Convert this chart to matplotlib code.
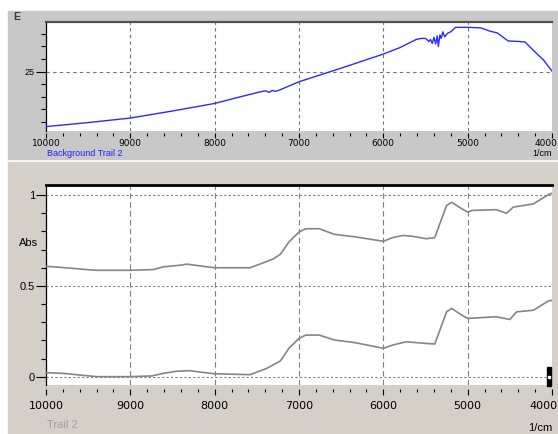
import matplotlib
matplotlib.use('Agg')
import matplotlib.pyplot as plt
from matplotlib.patches import Rectangle
from matplotlib.ticker import FixedLocator, MultipleLocator
from matplotlib.transforms import ScaledTranslation

# Background Trail 2 (top panel)
bg_wn = [10000, 9500, 9000, 8500, 8000, 7700, 7460, 7400, 7350, 7320,
         7280, 7240, 7000, 6500, 6000, 5800, 5610, 5550, 5500, 5460,
         5440, 5420, 5400, 5380, 5360, 5348, 5329, 5313, 5294, 5273,
         5241, 5202, 5143, 5004, 4846, 4727, 4650, 4520, 4400, 4320,
         4225, 4100, 4000]
bg_e = [14.1, 14.9, 15.8, 17.2, 18.7, 20.0, 21.0, 21.2, 20.9, 21.3,
        21.1, 21.3, 23.0, 25.7, 28.5, 29.8, 31.4, 31.6, 31.6, 31.0,
        31.4, 30.6, 31.8, 30.5, 32.1, 30.0, 32.3, 31.6, 32.9, 31.9,
        32.6, 32.9, 33.8, 33.8, 33.7, 33.0, 32.7, 31.1, 31.0, 30.9,
        29.3, 27.3, 25.1]

# Trail 2 (bottom panel), upper and lower traces
up_wn = [10000, 9795, 9517, 9400, 9000, 8725, 8610, 8410, 8330, 8090,
         8000, 7580, 7420, 7300, 7220, 7120, 7000, 6920, 6760, 6580, 6330,
         6000, 5890, 5770, 5650, 5490, 5390, 5330, 5250, 5190, 5070,
         5000, 4940, 4660, 4540, 4460, 4220, 4040, 4000]
up_abs = [0.608, 0.601, 0.590, 0.586, 0.586, 0.590, 0.605, 0.614, 0.620, 0.605,
          0.600, 0.600, 0.628, 0.650, 0.675, 0.742, 0.797, 0.815, 0.815, 0.784, 0.770,
          0.746, 0.766, 0.778, 0.773, 0.760, 0.766, 0.843, 0.943, 0.961, 0.925,
          0.907, 0.916, 0.920, 0.900, 0.934, 0.952, 1.004, 1.01]

lo_wn = [10000, 9795, 9400, 9000, 8745, 8610, 8450, 8290, 8170, 8000,
         7580, 7380, 7220, 7120, 7000, 6920, 6760, 6580, 6330, 6000,
         5890, 5730, 5490, 5390, 5330, 5250, 5190, 5070, 5000, 4660,
         4500, 4420, 4220, 4040, 4000]
lo_abs = [0.022, 0.018, 0.0, 0.0, 0.004, 0.018, 0.030, 0.033, 0.025, 0.016,
          0.011, 0.046, 0.087, 0.156, 0.211, 0.229, 0.229, 0.202, 0.187, 0.156,
          0.174, 0.192, 0.183, 0.180, 0.256, 0.357, 0.376, 0.339, 0.321, 0.330,
          0.315, 0.357, 0.366, 0.418, 0.42]

x_major = [10000, 9000, 8000, 7000, 6000, 5000, 4000]
x_labels = ['10000', '9000', '8000', '7000', '6000', '5000', '4000']
x_grid = [9000, 8000, 7000, 6000, 5000]
abs_ticks = [0, 0.5, 1]
abs_labels = ['0', '0.5', '1']

W, H = 558, 434


def fx(x):
    return x / W


def fy(y):
    return 1 - y / H


fig = plt.figure(figsize=(W / 100, H / 100), dpi=100, facecolor='white')

# panel backgrounds
fig.patches.append(Rectangle((fx(8), fy(159)), fx(550), 148 / H,
                             transform=fig.transFigure, color='#c8c8c8', zorder=-5))
fig.patches.append(Rectangle((fx(8), fy(434)), fx(550), 272 / H,
                             transform=fig.transFigure, color='#d4d0c8', zorder=-5))

small = ['Liberation Sans', 'DejaVu Sans']
narrow = ['DejaVu Sans Condensed', 'Liberation Sans Narrow', 'Liberation Sans']

# ---- top panel ----
ax1 = fig.add_axes([fx(46), fy(131), 506 / W, 109 / H])
ax1.set_zorder(2)
ax1.set_facecolor('white')
ax1.plot(bg_wn, bg_e, color='#2a2aff', lw=1.0, zorder=3)
ax1.set_xlim(10000, 4000)
ax1.set_ylim(13.23, 34.86)
for v in x_grid:
    ax1.axvline(v, color='#707070', lw=0.8, dashes=(3, 3), zorder=1)
ax1.axhline(25, color='#707070', lw=0.8, dashes=(3, 3), zorder=1)

ax1.xaxis.set_major_locator(FixedLocator(x_major))
ax1.set_xticklabels(x_labels)
ax1.xaxis.set_minor_locator(MultipleLocator(200))
ax1.yaxis.set_major_locator(FixedLocator([25]))
ax1.set_yticklabels(['25'])
ax1.yaxis.set_minor_locator(MultipleLocator(2.5))
ax1.tick_params(axis='x', which='major', length=3.6, width=0.8, pad=1, labelsize=6.5, direction='out')
ax1.tick_params(axis='x', which='minor', length=2.2, width=0.8, direction='out')
ax1.tick_params(axis='y', which='major', length=7.2, width=0.8, pad=0.8, labelsize=6.5, direction='out')
ax1.tick_params(axis='y', which='minor', length=3.6, width=0.8, direction='out')
for lab in ax1.get_xticklabels() + ax1.get_yticklabels():
    lab.set_family(small)
ax1.spines['bottom'].set_position(('outward', 1.5))
ax1.spines['bottom'].set_visible(False)
ax1.spines['right'].set_visible(False)
ax1.spines['top'].set_color('#505050')
ax1.spines['top'].set_linewidth(1.6)
ax1.spines['left'].set_linewidth(0.9)

fig.text(fx(13), fy(16.5), 'E', ha='left', va='center', fontsize=7.5,
         weight='bold', color='#383838', family=small)
fig.text(fx(47), fy(154), 'Background Trail 2', ha='left', va='center',
         fontsize=6.5, color='#2020ff', family=small)
fig.text(fx(552), fy(154), '1/cm', ha='right', va='center',
         fontsize=6.5, color='black', family=small)

# ---- bottom panel ----
ax2 = fig.add_axes([fx(46), fy(385), 506 / W, 200 / H])
ax2.set_zorder(2)
ax2.set_facecolor('white')
ax2.plot(up_wn, up_abs, color='#858585', lw=1.2, zorder=3)
ax2.plot(lo_wn, lo_abs, color='#858585', lw=1.2, zorder=3)
ax2.set_xlim(10000, 4000)
ax2.set_ylim(-0.046, 1.056)
for v in x_grid:
    ax2.axvline(v, color='#808080', lw=0.8, dashes=(5, 3), zorder=1)
for v in abs_ticks:
    ax2.axhline(v, color='#808080', lw=0.8, dashes=(2, 2), zorder=1)

ax2.xaxis.set_major_locator(FixedLocator(x_major))
ax2.set_xticklabels(x_labels)
ax2.xaxis.set_minor_locator(MultipleLocator(200))
ax2.yaxis.set_major_locator(FixedLocator(abs_ticks))
ax2.set_yticklabels(abs_labels)
ax2.yaxis.set_minor_locator(MultipleLocator(0.1))
ax2.tick_params(axis='x', which='major', length=4.3, width=0.8, pad=4, labelsize=8, direction='out')
ax2.tick_params(axis='x', which='minor', length=2.2, width=0.8, direction='out')
ax2.tick_params(axis='y', which='major', length=7.2, width=0.8, pad=0.8, labelsize=8, direction='out')
ax2.tick_params(axis='y', which='minor', length=3.6, width=0.8, direction='out')
for lab in ax2.get_xticklabels() + ax2.get_yticklabels():
    lab.set_family(narrow)
ax2.spines['bottom'].set_position(('outward', 3))
ax2.spines['bottom'].set_visible(False)
ax2.spines['right'].set_visible(False)
ax2.spines['top'].set_color('black')
ax2.spines['top'].set_linewidth(2.0)
ax2.spines['left'].set_linewidth(0.9)

# keep the last "4000" label inside the picture, flush with the right edge
for ax in (ax1, ax2):
    last = ax.get_xticklabels()[-1]
    last.set_horizontalalignment('right')
    last.set_transform(last.get_transform() + ScaledTranslation(5.5 / 100, 0, fig.dpi_scale_trans))

# cursor marker at the right end
fig.add_artist(Rectangle((fx(546.5), fy(386)), 4.5 / W, 19 / H,
                         transform=fig.transFigure, color='black', zorder=5))
fig.add_artist(Rectangle((fx(547.8), fy(378)), 2 / W, 2 / H,
                         transform=fig.transFigure, color='white', zorder=6))

fig.text(fx(19), fy(243), 'Abs', ha='left', va='center', fontsize=8,
         color='black', family=narrow)
fig.text(fx(47), fy(425), 'Trail 2', ha='left', va='center', fontsize=8,
         color='#a0a0a0', family=narrow)
fig.text(fx(552), fy(428), '1/cm', ha='right', va='center', fontsize=8,
         color='black', family=narrow)

fig.savefig('out.png', dpi=100, facecolor='white')
